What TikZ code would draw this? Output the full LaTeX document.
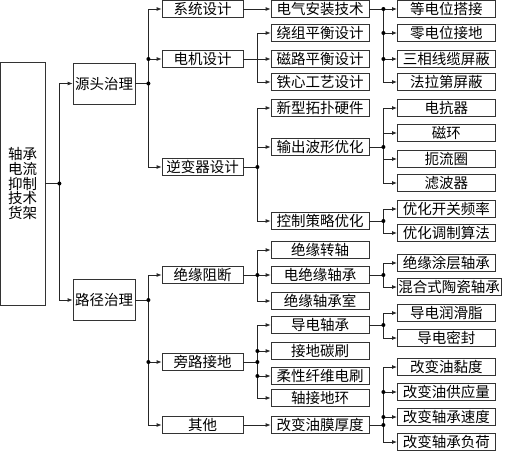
\documentclass[tikz,border=0pt]{standalone}
\usepackage{fontspec}
\setmainfont{Noto Sans CJK SC}
\usetikzlibrary{arrows.meta,positioning}

\begin{document}
\begin{tikzpicture}[x=1pt, y=-1pt,
    box/.style={rectangle, draw=black!80, line width=0.8pt, inner sep=1pt, minimum height=17pt, font=\fontsize{14.5}{14.7}\selectfont},
    lvtwo/.style={box, minimum width=81pt},
    lvthree/.style={box, minimum width=98pt},
    lvfour/.style={box, minimum width=98pt, anchor=west},
    wire/.style={line width=0.8pt, black!85},
    arrow/.style={wire, -{Latex[length=5pt, width=4pt]}}
]
\useasboundingbox (0,0) rectangle (505,452);

% Root
\node[box, minimum width=44.5pt, minimum height=243pt, align=center] (root) at (22.75,183.5) {轴承\\电流\\抑制\\技术\\货架};

% Level 1
\node[box, minimum width=62pt, minimum height=41pt] (src) at (104,83.5) {源头治理};
\node[box, minimum width=62pt, minimum height=41pt] (route) at (104,300) {路径治理};

% Level 2
\node[lvtwo] (sysdes) at (202.5,9) {系统设计};
\node[lvtwo] (motordes) at (202.5,59) {电机设计};
\node[lvtwo] (invdes) at (202.5,167) {逆变器设计};
\node[lvtwo] (insul) at (202.5,275) {绝缘阻断};
\node[lvtwo] (bypass) at (202.5,362) {旁路接地};
\node[lvtwo] (other) at (202.5,425) {其他};

% Level 3
\node[lvthree] (install) at (320,9) {电气安装技术};
\node[lvthree] (winding) at (320,33) {绕组平衡设计};
\node[lvthree] (magpath) at (320,59) {磁路平衡设计};
\node[lvthree] (core) at (320,82) {铁心工艺设计};
\node[lvthree] (topo) at (320,108) {新型拓扑硬件};
\node[lvthree] (wave) at (320,147) {输出波形优化};
\node[lvthree] (ctrl) at (320,221) {控制策略优化};
\node[lvthree] (shaft) at (320,250) {绝缘转轴};
\node[lvthree] (insbear) at (320,275) {电绝缘轴承};
\node[lvthree] (housing) at (320,301) {绝缘轴承室};
\node[lvthree] (condbear) at (320,325) {导电轴承};
\node[lvthree] (brush) at (320,351) {接地碳刷};
\node[lvthree] (fiber) at (320,376) {柔性纤维电刷};
\node[lvthree] (ring) at (320,398) {轴接地环};
\node[lvthree] (film) at (320,425) {改变油膜厚度};

% Level 4
\node[lvfour] (equi) at (397,9) {等电位搭接};
\node[lvfour] (zero) at (397,33) {零电位接地};
\node[lvfour] (cable) at (397,59) {三相线缆屏蔽};
\node[lvfour] (faraday) at (397,82) {法拉第屏蔽};
\node[lvfour] (reactor) at (397,108) {电抗器};
\node[lvfour] (magring) at (397,133) {磁环};
\node[lvfour] (choke) at (397,159) {扼流圈};
\node[lvfour] (filter) at (397,183) {滤波器};
\node[lvfour] (freq) at (397,209) {优化开关频率};
\node[lvfour] (modul) at (397,233) {优化调制算法};
\node[lvfour] (coat) at (397,263) {绝缘涂层轴承};
\node[lvfour] (ceram) at (397,287) {混合式陶瓷轴承};
\node[lvfour] (grease) at (397,313) {导电润滑脂};
\node[lvfour] (seal) at (397,338) {导电密封};
\node[lvfour] (visc) at (397,367) {改变油黏度};
\node[lvfour] (supply) at (397,392) {改变油供应量};
\node[lvfour] (speed) at (397,417) {改变轴承速度};
\node[lvfour] (bload) at (397,442) {改变轴承负荷};

% Root to level 1
\coordinate (jroot) at ([xshift=14pt]root.east);
\draw[wire] (root.east) -- (jroot);
\draw[arrow] (jroot) |- (src.west);
\draw[arrow] (jroot) |- (route.west);
\fill (jroot) circle (2pt);

% Level 1 to level 2
\coordinate (jsrc) at ([xshift=13pt]src.east);
\draw[wire] (src.east) -- (jsrc);
\draw[arrow] (jsrc) |- (sysdes.west);
\draw[arrow] (jsrc) |- (motordes.west);
\draw[arrow] (jsrc) |- (invdes.west);
\fill (jsrc) circle (2pt);
\fill (jsrc |- motordes) circle (2pt);

\coordinate (jroute) at ([xshift=13pt]route.east);
\draw[wire] (route.east) -- (jroute);
\draw[arrow] (jroute) |- (insul.west);
\draw[arrow] (jroute) |- (bypass.west);
\draw[arrow] (jroute) |- (other.west);
\fill (jroute) circle (2pt);
\fill (jroute |- bypass) circle (2pt);

% Level 2 to level 3
\draw[arrow] (sysdes) -- (install);

\coordinate (jmot) at ([xshift=14pt]motordes.east);
\draw[wire] (motordes.east) -- (jmot);
\draw[arrow] (jmot) |- (winding.west);
\draw[arrow] (jmot) |- (magpath.west);
\draw[arrow] (jmot) |- (core.west);

\coordinate (jinv) at ([xshift=14pt]invdes.east);
\draw[wire] (invdes.east) -- (jinv);
\draw[arrow] (jinv) |- (topo.west);
\draw[arrow] (jinv) |- (wave.west);
\draw[arrow] (jinv) |- (ctrl.west);
\fill (jinv) circle (2pt);

\coordinate (jins) at ([xshift=14pt]insul.east);
\draw[wire] (insul.east) -- (jins);
\draw[arrow] (jins) |- (shaft.west);
\draw[arrow] (jins) |- (insbear.west);
\draw[arrow] (jins) |- (housing.west);
\fill (jins) circle (2pt);

\coordinate (jbyp) at ([xshift=14pt]bypass.east);
\draw[wire] (bypass.east) -- (jbyp);
\draw[arrow] (jbyp) |- (condbear.west);
\draw[arrow] (jbyp) |- (brush.west);
\draw[arrow] (jbyp) |- (fiber.west);
\draw[arrow] (jbyp) |- (ring.west);
\fill (jbyp) circle (2pt);
\fill (jbyp |- brush) circle (2pt);
\fill (jbyp |- fiber) circle (2pt);

\draw[arrow] (other) -- (film);

% Level 3 to level 4
\coordinate (jinst) at ([xshift=14pt]install.east);
\draw[wire] (install.east) -- (jinst);
\draw[arrow] (jinst) |- (equi.west);
\draw[arrow] (jinst) |- (zero.west);
\draw[arrow] (jinst) |- (cable.west);
\draw[arrow] (jinst) |- (faraday.west);
\fill (jinst) circle (2pt);
\fill (jinst |- zero) circle (2pt);
\fill (jinst |- cable) circle (2pt);

\coordinate (jwave) at ([xshift=14pt]wave.east);
\draw[wire] (wave.east) -- (jwave);
\draw[arrow] (jwave) |- (reactor.west);
\draw[arrow] (jwave) |- (magring.west);
\draw[arrow] (jwave) |- (choke.west);
\draw[arrow] (jwave) |- (filter.west);
\fill (jwave) circle (2pt);

\coordinate (jctrl) at ([xshift=14pt]ctrl.east);
\draw[wire] (ctrl.east) -- (jctrl);
\draw[arrow] (jctrl) |- (freq.west);
\draw[arrow] (jctrl) |- (modul.west);
\fill (jctrl) circle (2pt);

\coordinate (jbear) at ([xshift=14pt]insbear.east);
\draw[wire] (insbear.east) -- (jbear);
\draw[arrow] (jbear) |- (coat.west);
\draw[arrow] (jbear) |- (ceram.west);
\fill (jbear) circle (2pt);

\coordinate (jcond) at ([xshift=14pt]condbear.east);
\draw[wire] (condbear.east) -- (jcond);
\draw[arrow] (jcond) |- (grease.west);
\draw[arrow] (jcond) |- (seal.west);
\fill (jcond) circle (2pt);

\coordinate (jfilm) at ([xshift=14pt]film.east);
\draw[wire] (film.east) -- (jfilm);
\draw[arrow] (jfilm) |- (visc.west);
\draw[arrow] (jfilm) |- (supply.west);
\draw[arrow] (jfilm) |- (speed.west);
\draw[arrow] (jfilm) |- (bload.west);
\fill (jfilm) circle (2pt);
\fill (jfilm |- supply) circle (2pt);
\fill (jfilm |- speed) circle (2pt);

\end{tikzpicture}
\end{document}
